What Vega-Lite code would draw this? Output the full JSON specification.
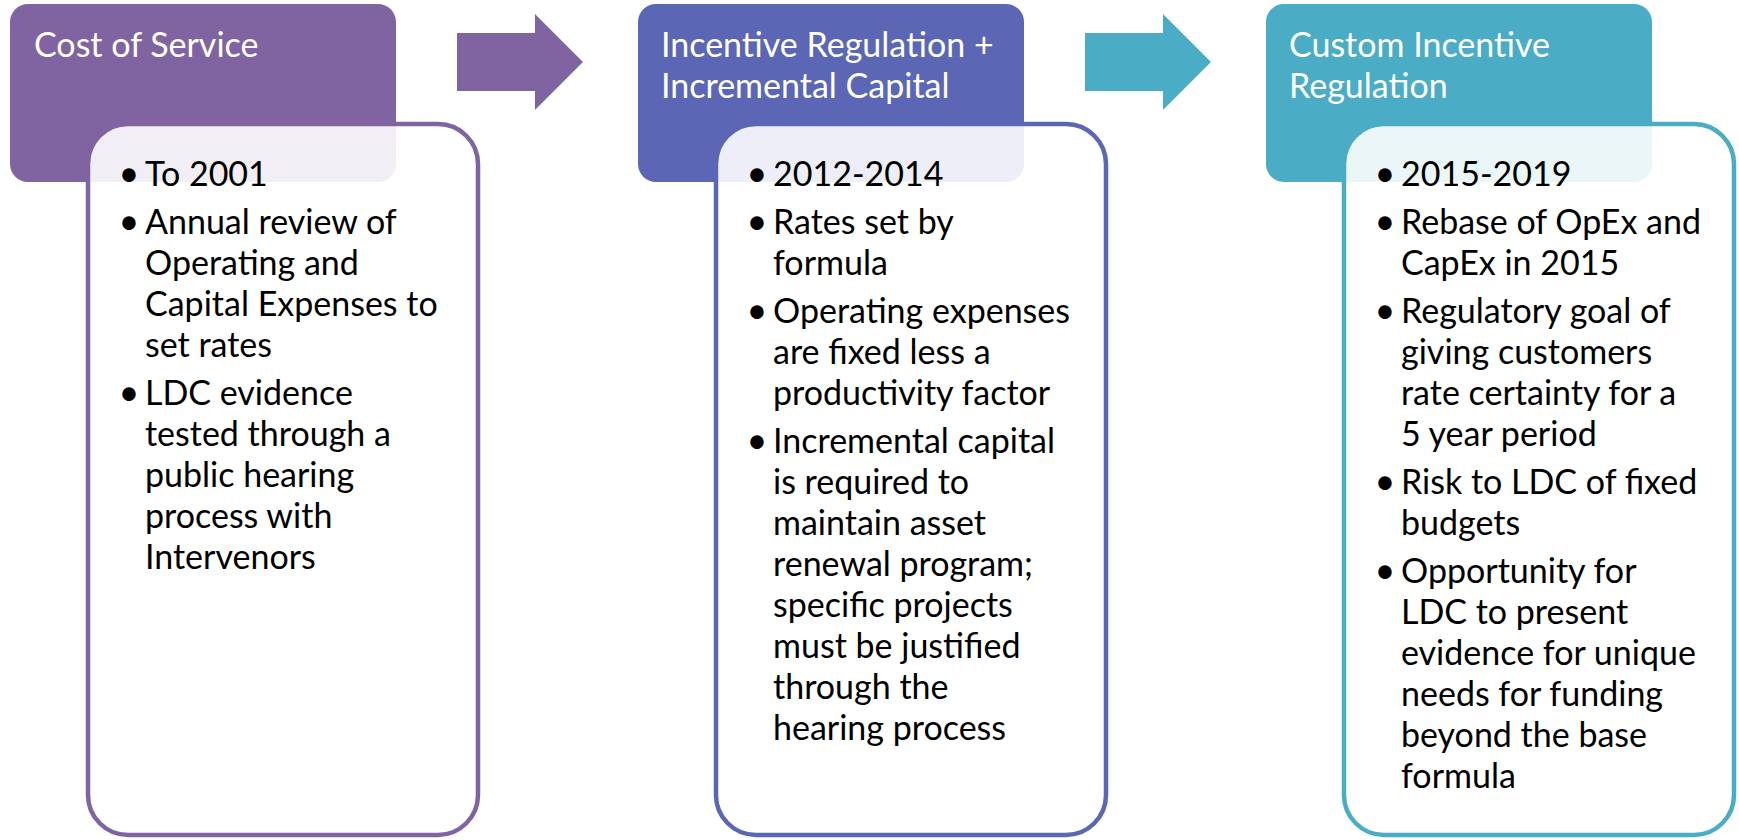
{
  "$schema": "https://vega.github.io/schema/vega-lite/v6.json",
  "width": 1739,
  "height": 840,
  "autosize": {"type": "fit", "contains": "padding"},
  "padding": 0,
  "background": "white",
  "config": {"view": {"stroke": null}},
  "datasets": {
    "headers": [
      {"stage": "Cost of Service", "x": 10, "x2": 396, "y": 4, "y2": 182},
      {"stage": "Incentive Regulation + Incremental Capital", "x": 638, "x2": 1024, "y": 4, "y2": 182},
      {"stage": "Custom Incentive Regulation", "x": 1266, "x2": 1652, "y": 4, "y2": 182}
    ],
    "bodies": [
      {"stage": "Cost of Service", "x": 88, "x2": 478, "y": 124, "y2": 835},
      {"stage": "Incentive Regulation + Incremental Capital", "x": 716, "x2": 1106, "y": 124, "y2": 835},
      {"stage": "Custom Incentive Regulation", "x": 1344, "x2": 1734, "y": 124, "y2": 835}
    ],
    "arrows": [
      {"arrow": "a1", "stage": "Cost of Service", "x": 520, "y": 62},
      {"arrow": "a2", "stage": "Custom Incentive Regulation", "x": 1148, "y": 62}
    ],
    "titles": [
      {"stage": "Cost of Service", "x": 34, "y": 57, "text": "Cost of Service"},
      {"stage": "Incentive Regulation + Incremental Capital", "x": 661, "y": 57, "text": "Incentive Regulation +"},
      {"stage": "Incentive Regulation + Incremental Capital", "x": 661, "y": 98, "text": "Incremental Capital"},
      {"stage": "Custom Incentive Regulation", "x": 1289, "y": 57, "text": "Custom Incentive"},
      {"stage": "Custom Incentive Regulation", "x": 1289, "y": 98, "text": "Regulation"}
    ],
    "lines": [
      {"stage": "Cost of Service", "x": 145, "y": 186, "b": "•", "text": "To 2001"},
      {"stage": "Cost of Service", "x": 145, "y": 234, "b": "•", "text": "Annual review of"},
      {"stage": "Cost of Service", "x": 145, "y": 275, "b": "", "text": "Operating and"},
      {"stage": "Cost of Service", "x": 145, "y": 316, "b": "", "text": "Capital Expenses to"},
      {"stage": "Cost of Service", "x": 145, "y": 357, "b": "", "text": "set rates"},
      {"stage": "Cost of Service", "x": 145, "y": 405, "b": "•", "text": "LDC evidence"},
      {"stage": "Cost of Service", "x": 145, "y": 446, "b": "", "text": "tested through a"},
      {"stage": "Cost of Service", "x": 145, "y": 487, "b": "", "text": "public hearing"},
      {"stage": "Cost of Service", "x": 145, "y": 528, "b": "", "text": "process with"},
      {"stage": "Cost of Service", "x": 145, "y": 569, "b": "", "text": "Intervenors"},
      {"stage": "Incentive Regulation + Incremental Capital", "x": 773, "y": 186, "b": "•", "text": "2012-2014"},
      {"stage": "Incentive Regulation + Incremental Capital", "x": 773, "y": 234, "b": "•", "text": "Rates set by"},
      {"stage": "Incentive Regulation + Incremental Capital", "x": 773, "y": 275, "b": "", "text": "formula"},
      {"stage": "Incentive Regulation + Incremental Capital", "x": 773, "y": 323, "b": "•", "text": "Operating expenses"},
      {"stage": "Incentive Regulation + Incremental Capital", "x": 773, "y": 364, "b": "", "text": "are fixed less a"},
      {"stage": "Incentive Regulation + Incremental Capital", "x": 773, "y": 405, "b": "", "text": "productivity factor"},
      {"stage": "Incentive Regulation + Incremental Capital", "x": 773, "y": 453, "b": "•", "text": "Incremental capital"},
      {"stage": "Incentive Regulation + Incremental Capital", "x": 773, "y": 494, "b": "", "text": "is required to"},
      {"stage": "Incentive Regulation + Incremental Capital", "x": 773, "y": 535, "b": "", "text": "maintain asset"},
      {"stage": "Incentive Regulation + Incremental Capital", "x": 773, "y": 576, "b": "", "text": "renewal program;"},
      {"stage": "Incentive Regulation + Incremental Capital", "x": 773, "y": 617, "b": "", "text": "specific projects"},
      {"stage": "Incentive Regulation + Incremental Capital", "x": 773, "y": 658, "b": "", "text": "must be justified"},
      {"stage": "Incentive Regulation + Incremental Capital", "x": 773, "y": 699, "b": "", "text": "through the"},
      {"stage": "Incentive Regulation + Incremental Capital", "x": 773, "y": 740, "b": "", "text": "hearing process"},
      {"stage": "Custom Incentive Regulation", "x": 1401, "y": 186, "b": "•", "text": "2015-2019"},
      {"stage": "Custom Incentive Regulation", "x": 1401, "y": 234, "b": "•", "text": "Rebase of OpEx and"},
      {"stage": "Custom Incentive Regulation", "x": 1401, "y": 275, "b": "", "text": "CapEx in 2015"},
      {"stage": "Custom Incentive Regulation", "x": 1401, "y": 323, "b": "•", "text": "Regulatory goal of"},
      {"stage": "Custom Incentive Regulation", "x": 1401, "y": 364, "b": "", "text": "giving customers"},
      {"stage": "Custom Incentive Regulation", "x": 1401, "y": 405, "b": "", "text": "rate certainty for a"},
      {"stage": "Custom Incentive Regulation", "x": 1401, "y": 446, "b": "", "text": "5 year period"},
      {"stage": "Custom Incentive Regulation", "x": 1401, "y": 494, "b": "•", "text": "Risk to LDC of fixed"},
      {"stage": "Custom Incentive Regulation", "x": 1401, "y": 535, "b": "", "text": "budgets"},
      {"stage": "Custom Incentive Regulation", "x": 1401, "y": 583, "b": "•", "text": "Opportunity for"},
      {"stage": "Custom Incentive Regulation", "x": 1401, "y": 624, "b": "", "text": "LDC to present"},
      {"stage": "Custom Incentive Regulation", "x": 1401, "y": 665, "b": "", "text": "evidence for unique"},
      {"stage": "Custom Incentive Regulation", "x": 1401, "y": 706, "b": "", "text": "needs for funding"},
      {"stage": "Custom Incentive Regulation", "x": 1401, "y": 747, "b": "", "text": "beyond the base"},
      {"stage": "Custom Incentive Regulation", "x": 1401, "y": 788, "b": "", "text": "formula"}
    ]
  },
  "layer": [
    {
      "data": {"name": "headers"},
      "mark": {"type": "rect", "cornerRadius": 18},
      "encoding": {
        "x": {"field": "x", "type": "quantitative", "axis": null, "scale": {"domain": [0, 1739], "nice": false, "zero": false}},
        "x2": {"field": "x2"},
        "y": {"field": "y", "type": "quantitative", "axis": null, "scale": {"domain": [0, 840], "reverse": true, "nice": false, "zero": false}},
        "y2": {"field": "y2"},
        "fill": {"field": "stage", "type": "nominal", "legend": null, "scale": {"domain": ["Cost of Service", "Incentive Regulation + Incremental Capital", "Custom Incentive Regulation"], "range": ["#8064A2", "#5B67B4", "#4BACC6"]}}
      }
    },
    {
      "data": {"name": "arrows"},
      "mark": {"type": "point", "filled": true, "opacity": 1, "strokeWidth": 0, "size": 15876, "shape": "M-1,-0.46L0.238,-0.46L0.238,-0.762L1,0L0.238,0.762L0.238,0.46L-1,0.46Z"},
      "encoding": {
        "x": {"field": "x", "type": "quantitative", "axis": null},
        "y": {"field": "y", "type": "quantitative", "axis": null},
        "fill": {"field": "stage", "type": "nominal", "legend": null}
      }
    },
    {
      "data": {"name": "bodies"},
      "mark": {"type": "rect", "cornerRadius": 40, "fill": "white", "fillOpacity": 0.89, "strokeWidth": 4.5},
      "encoding": {
        "x": {"field": "x", "type": "quantitative", "axis": null},
        "x2": {"field": "x2"},
        "y": {"field": "y", "type": "quantitative", "axis": null},
        "y2": {"field": "y2"},
        "stroke": {"field": "stage", "type": "nominal", "legend": null, "scale": {"domain": ["Cost of Service", "Incentive Regulation + Incremental Capital", "Custom Incentive Regulation"], "range": ["#8064A2", "#5B67B4", "#4BACC6"]}}
      }
    },
    {
      "data": {"name": "titles"},
      "mark": {"type": "text", "align": "left", "baseline": "alphabetic", "font": "Lato", "fontSize": 34, "color": "white"},
      "encoding": {
        "x": {"field": "x", "type": "quantitative", "axis": null},
        "y": {"field": "y", "type": "quantitative", "axis": null},
        "text": {"field": "text"}
      }
    },
    {
      "data": {"name": "lines"},
      "transform": [{"filter": "datum.b != ''"}],
      "mark": {"type": "text", "align": "center", "baseline": "alphabetic", "font": "Lato", "fontSize": 36, "color": "black", "dx": -16},
      "encoding": {
        "x": {"field": "x", "type": "quantitative", "axis": null},
        "y": {"field": "y", "type": "quantitative", "axis": null},
        "text": {"field": "b"}
      }
    },
    {
      "data": {"name": "lines"},
      "mark": {"type": "text", "align": "left", "baseline": "alphabetic", "font": "Lato", "fontSize": 34, "color": "black"},
      "encoding": {
        "x": {"field": "x", "type": "quantitative", "axis": null},
        "y": {"field": "y", "type": "quantitative", "axis": null},
        "text": {"field": "text"}
      }
    }
  ]
}
